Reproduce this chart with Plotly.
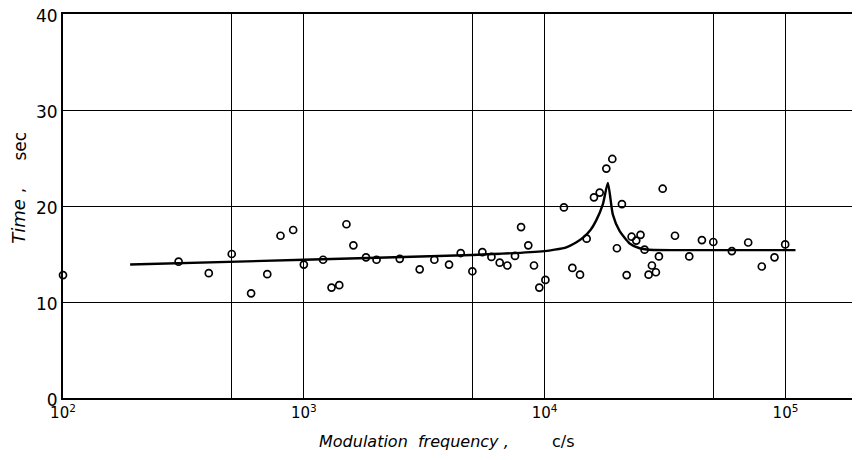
import plotly.graph_objects as go

# Measured points (frequency in c/s, time in sec)
freq_pts = [100, 302, 403, 502, 604, 705, 800, 903, 1000, 1202, 1303, 1403, 1503, 1606,
            1812, 2004, 2501, 3027, 3483, 4008, 4481, 5010, 5512, 6010, 6506, 7000,
            7530, 7980, 8550, 9030, 9500, 10070, 12020, 13030, 14020, 14940, 16020,
            16920, 18030, 19090, 19950, 20930, 21900, 22960, 24000, 25000, 25990,
            27010, 27880, 28960, 29810, 30900, 34760, 39840, 44960, 50130, 59870,
            69990, 79720, 90000, 99700]
time_pts = [12.8, 14.2, 13.0, 15.0, 10.9, 12.9, 16.9, 17.5, 13.9, 14.4, 11.5, 11.75, 18.1, 15.9,
            14.65, 14.4, 14.5, 13.4, 14.4, 13.9, 15.1, 13.2, 15.2, 14.7, 14.1, 13.8,
            14.8, 17.8, 15.9, 13.8, 11.5, 12.3, 19.85, 13.55, 12.85, 16.6, 20.9,
            21.4, 23.9, 24.9, 15.6, 20.2, 12.8, 16.8, 16.4, 17.0, 15.45,
            12.85, 13.8, 13.1, 14.75, 21.8, 16.9, 14.75, 16.45, 16.25, 15.3,
            16.2, 13.7, 14.65, 16.0]

# Fitted curve
curve_freq = [190, 1000, 5000, 10000, 11000, 12300, 13500, 14430, 15500, 16370, 17450,
              18300, 19190, 20460, 22530, 24790, 27000, 50000, 110000]
curve_time = [13.9, 14.4, 14.9, 15.3, 15.45, 15.7, 16.2, 16.7, 17.5, 18.5, 20.2,
              22.4, 19.1, 17.4, 16.1, 15.6, 15.45, 15.4, 15.4]

x_tickvals = [100, 500, 1000, 5000, 10000, 50000, 100000]
x_ticktext = ["10<sup>2</sup>", "", "10<sup>3</sup>", "", "10<sup>4</sup>", "", "10<sup>5</sup>"]
y_tickvals = [0, 10, 20, 30, 40]

fig = go.Figure()
fig.add_trace(go.Scatter(x=curve_freq, y=curve_time, mode="lines",
                         line=dict(color="black", width=2.4, shape="spline", smoothing=0.6),
                         showlegend=False, hoverinfo="skip"))
fig.add_trace(go.Scatter(x=freq_pts, y=time_pts, mode="markers",
                         marker=dict(symbol="circle-open", size=7, color="black",
                                     line=dict(width=1.7, color="black")),
                         showlegend=False, cliponaxis=False))

font_family = "DejaVu Sans, Liberation Sans, sans-serif"
title_font = dict(size=16, family=font_family, color="black")
fig.update_layout(
    width=852, height=452,
    margin=dict(l=55, r=2, t=6, b=62, autoexpand=False),
    paper_bgcolor="white", plot_bgcolor="white",
    font=dict(family=font_family, color="black", size=15),
    xaxis=dict(type="log", range=[2, 5.301], tickvals=x_tickvals, ticktext=x_ticktext,
               showgrid=True, gridcolor="black", gridwidth=1.3,
               showline=True, linecolor="black", linewidth=1.8, mirror=True,
               ticks="", zeroline=False, tickfont=dict(size=15), automargin=False,
               ticklabeloverflow="allow"),
    yaxis=dict(range=[0, 40], tickvals=y_tickvals,
               showgrid=True, gridcolor="black", gridwidth=1.3,
               showline=True, linecolor="black", linewidth=1.8, mirror=True,
               ticks="", zeroline=False, tickfont=dict(size=17), automargin=False,
               ticklabeloverflow="allow", ticklabelshift=2),
    annotations=[
        dict(text="<i>Modulation  frequency ,</i>", xref="paper", yref="paper",
             x=0.4415, y=-0.112, xanchor="center", yanchor="middle", showarrow=False,
             font=title_font),
        dict(text="c/s", xref="paper", yref="paper",
             x=0.629, y=-0.112, xanchor="center", yanchor="middle", showarrow=False,
             font=title_font),
        dict(text="<i>Time</i>", xref="paper", yref="paper",
             x=-0.056, y=0.46, xanchor="center", yanchor="middle", textangle=-90,
             showarrow=False, font=dict(size=18, family=font_family, color="black")),
        dict(text=",", xref="paper", yref="paper",
             x=-0.056, y=0.54, xanchor="center", yanchor="middle", textangle=-90,
             showarrow=False, font=title_font),
        dict(text="sec", xref="paper", yref="paper",
             x=-0.054, y=0.655, xanchor="center", yanchor="middle", textangle=-90,
             showarrow=False, font=dict(size=17, family=font_family, color="black")),
    ],
)

fig.write_html("out.html")
